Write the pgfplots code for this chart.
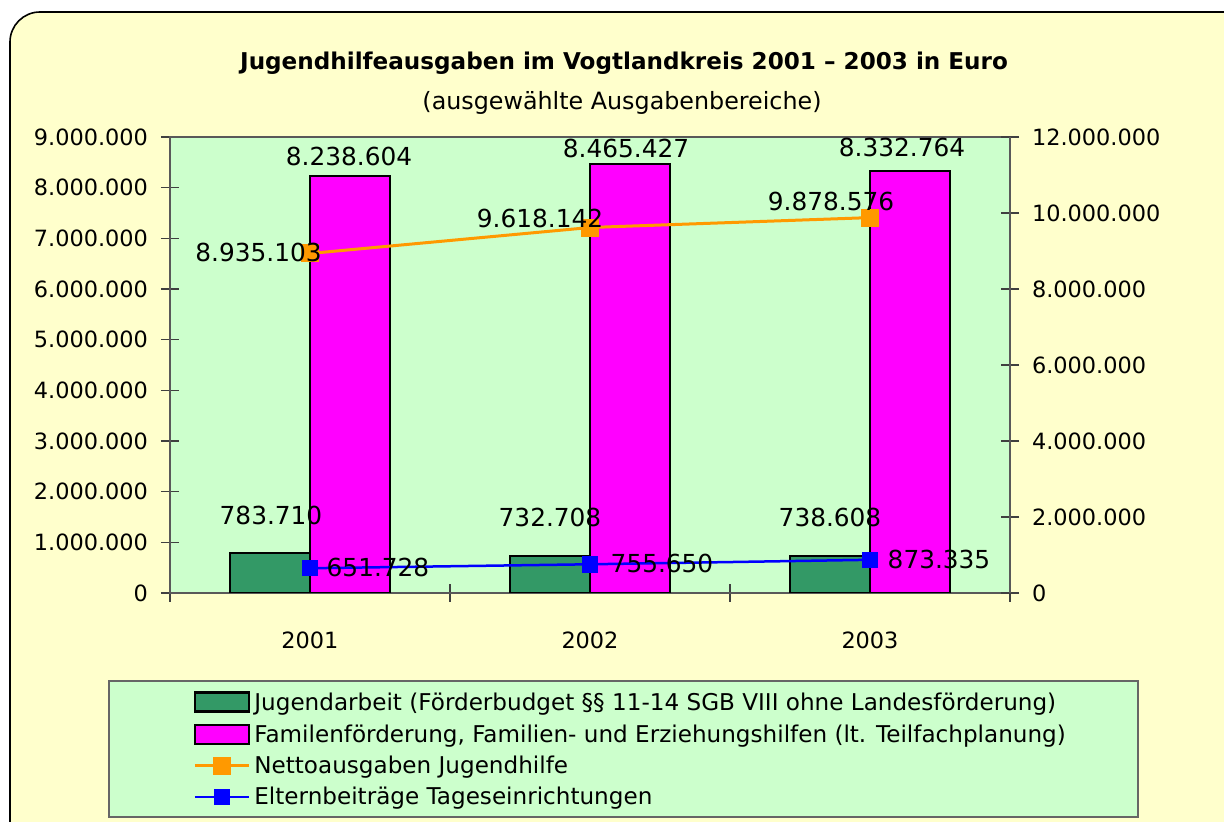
\documentclass[border=0pt]{standalone}
\usepackage{pgfplots}
\pgfplotsset{compat=1.18}
\usepackage{fontspec}
\setmainfont{DejaVu Sans}
\definecolor{bgyellow}{HTML}{FFFFCC}
\definecolor{plotgreen}{HTML}{CCFFCC}
\definecolor{bargreen}{HTML}{339966}
\definecolor{barmag}{HTML}{FF00FF}
\definecolor{lorange}{HTML}{FF9900}
\definecolor{lblue}{HTML}{0000FF}
\newcommand{\fs}{\fontsize{11.2bp}{13bp}\selectfont}
\newcommand{\fg}{\fontsize{11.55bp}{13.5bp}\selectfont}
\newcommand{\fl}{\fontsize{12.4bp}{14bp}\selectfont}
\pgfplotsset{
  barleg/.style={legend image code/.code={\draw[##1] (0bp,-3.75bp) rectangle (27bp,5.75bp);}},
  lineleg/.style={legend image code/.code={\draw[##1, mark repeat=2, mark phase=2] plot coordinates {(0bp,1bp) (13.5bp,1bp) (27bp,1bp)};}},
  lab/.style={nodes near coords, point meta=explicit symbolic,
    visualization depends on={value \thisrow{dx}\as\dx},
    visualization depends on={value \thisrow{dy}\as\dy},
    every node near coord/.append style={anchor=center, xshift=\dx bp, yshift=\dy bp, font=\fl, text=black}},
}
\begin{document}
\begin{tikzpicture}
\path[use as bounding box, fill=white] (0,0) rectangle (612bp,411bp);
\begin{scope}
\clip (0,0) rectangle (612bp,411bp);
\draw[fill=bgyellow, draw=black, line width=0.8bp, rounded corners=15bp] (5bp,405bp) rectangle (650bp,-40bp);
\end{scope}
\node[font=\bfseries\fg] at (312bp,379.5bp) {Jugendhilfeausgaben im Vogtlandkreis 2001 – 2003 in Euro};
\node[font=\fontsize{11.9bp}{14bp}\selectfont] at (311bp,359.5bp) {(ausgewählte Ausgabenbereiche)};
\draw[fill=plotgreen, draw=black!60, line width=0.6bp] (54.5bp,70.5bp) rectangle (569bp,2.5bp);
\begin{axis}[
  at={(85bp,114.5bp)}, anchor=south west, scale only axis,
  width=420bp, height=228bp,
  xmin=-0.5, xmax=2.5, ymin=0, ymax=9000000,
  ybar, bar width=40bp,
  axis background/.style={fill=plotgreen},
  axis line style={draw=black!65, line width=0.7bp},
  xtick={-0.5,0.5,1.5,2.5}, xticklabels={},
  extra x ticks={0,1,2}, extra x tick labels={2001,2002,2003},
  extra x tick style={tick style={draw=none}},
  xticklabel style={anchor=center, yshift=-19bp},
  ytick={0,1000000,2000000,3000000,4000000,5000000,6000000,7000000,8000000,9000000},
  scaled y ticks=false,
  /pgf/number format/fixed, /pgf/number format/precision=0,
  /pgf/number format/1000 sep={.}, /pgf/number format/assume math mode=true,
  tick align=center, major tick length=9bp,
  xtick pos=left, ytick pos=left,
  tick style={draw=black!75, line width=0.6bp},
  every tick label/.append style={font=\fs, text=black},
  yticklabel style={xshift=-3bp},
]
\addplot[fill=bargreen, draw=black, line width=1bp, bar shift=-20bp, lab]
  table[x=x, y=y, meta=lab] {
x y lab dx dy
0 783710 783.710 0.5 19
1 732708 732.708 0 19
2 738608 738.608 0 19
};
\addplot[fill=barmag, draw=black, line width=1bp, bar shift=20bp, lab]
  table[x=x, y=y, meta=lab] {
x y lab dx dy
0 8238604 8.238.604 -0.5 9.5
1 8465427 8.465.427 -2 8
2 8332764 8.332.764 -4 11.5
};
\end{axis}
\begin{axis}[
  at={(85bp,114.5bp)}, anchor=south west, scale only axis,
  width=420bp, height=228bp,
  xmin=-0.5, xmax=2.5, ymin=0, ymax=12000000,
  axis x line=none, axis y line*=right,
  axis line style={draw=black!65, line width=0.7bp},
  ytick={0,2000000,4000000,6000000,8000000,10000000,12000000},
  scaled y ticks=false,
  /pgf/number format/fixed, /pgf/number format/precision=0,
  /pgf/number format/1000 sep={.}, /pgf/number format/assume math mode=true,
  tick align=center, major tick length=9bp,
  tick style={draw=black!75, line width=0.6bp},
  every tick label/.append style={font=\fs, text=black},
  yticklabel style={xshift=3bp},
  legend cell align=left,
  legend style={at={(0.02738,-0.2149)}, anchor=north west, draw=none, fill=none,
    inner sep=0pt, font=\fg, row sep=4.5bp,
    nodes={inner sep=0pt, text height=8.5bp, text depth=2.5bp},
    /tikz/every odd column/.append style={column sep=2bp}},
]
\addlegendimage{fill=bargreen, draw=black, line width=1.2bp, barleg}
\addlegendentry{Jugendarbeit (Förderbudget §§ 11-14 SGB VIII ohne Landesförderung)}
\addlegendimage{fill=barmag, draw=black, line width=1.2bp, barleg}
\addlegendentry{Familenförderung, Familien- und Erziehungshilfen (lt. Teilfachplanung)}
\addplot[color=lorange, line width=1.5bp, mark=square*, mark size=3.75bp,
  mark options={solid, fill=lorange}, lineleg, lab]
  table[x=x, y=y, meta=lab] {
x y lab dx dy
0 8935103 8.935.103 -25.75 0.25
1 9618142 9.618.142 -25 4.75
2 9878576 9.878.576 -19.5 8.3
};
\addlegendentry{Nettoausgaben Jugendhilfe}
\addplot[color=lblue, line width=1.25bp, mark=square*, mark size=3.5bp,
  mark options={solid, fill=lblue}, lineleg, lab]
  table[x=x, y=y, meta=lab] {
x y lab dx dy
0 651728 651.728 34 0.5
1 755650 755.650 36 0.5
2 873335 873.335 34.5 0.4
};
\addlegendentry{Elternbeiträge Tageseinrichtungen}
\end{axis}
\end{tikzpicture}
\end{document}
